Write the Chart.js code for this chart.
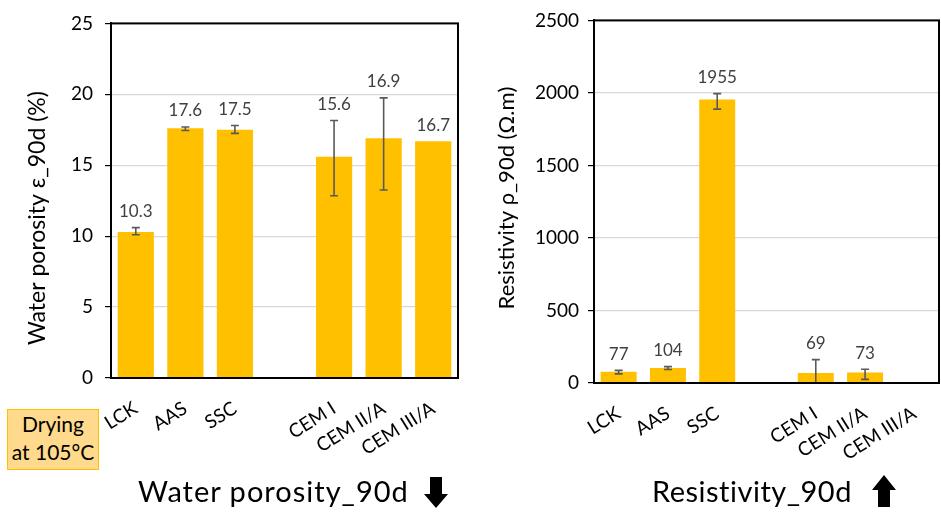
<!DOCTYPE html>
<html>
<head>
<meta charset="utf-8">
<script src="https://cdn.jsdelivr.net/npm/chart.js@4/dist/chart.umd.min.js"></script>
<style>
  body { margin: 0; background: #fff; }
  #wrap { position: relative; width: 941px; height: 512px; font-family: Lato, "Open Sans", sans-serif; }
  canvas { position: absolute; top: 0; }
  .title { position: absolute; font-size: 29px; color: #000; white-space: nowrap; line-height: 1; }
  #drying { position: absolute; left: 7px; top: 409px; width: 90px; height: 59px; background: #FFD98C;
            border: 1px solid #FFC000; font-size: 21px; line-height: 28px; text-align: center; color: #000; }
  svg { position: absolute; }
</style>
</head>
<body>
<div id="wrap">
  <canvas id="porosityChart" width="470" height="512" style="left:0"></canvas>
  <canvas id="resistChart" width="471" height="512" style="left:470px"></canvas>
  <div id="drying">Drying<br>at 105°C</div>
  <div class="title" style="left:138px; top:476px; letter-spacing:1px;">Water porosity_90d</div>
  <svg style="left:424px; top:477px" width="24" height="32"><polygon points="6,0 18,0 18,17 24,17 12,31 0,17 6,17" fill="#000"/></svg>
  <div class="title" style="left:652px; top:476px; letter-spacing:0.5px;">Resistivity_90d</div>
  <svg style="left:872px; top:475px" width="24" height="32"><polygon points="12,0 24,15 18,15 18,32 6,32 6,15 0,15" fill="#000"/></svg>
</div>
<script>
// categories (empty slot between the two groups)
var mixes = ["LCK", "AAS", "SSC", "", "CEM I", "CEM II/A", "CEM III/A"];

// water porosity at 90 days (%)
var porosity = [10.3, 17.6, 17.5, null, 15.6, 16.9, 16.7];
var porosityErrPlus = [0.3, 0.1, 0.3, null, 2.55, 2.85, null];
var porosityErrMinus = [0.2, 0.15, 0.25, null, 2.75, 3.65, null];
var porosityTicks = [0, 5, 10, 15, 20, 25];

// resistivity at 90 days (Ohm.m)
var resistivity = [77, 104, 1955, null, 69, 73, null];
var resistivityErrPlus = [10, 9, 40, null, 92, 22, null];
var resistivityErrMinus = [14, 11, 67, null, 92, 48, null];
var resistivityTicks = [0, 500, 1000, 1500, 2000, 2500];

var FONT = "Lato";

// error bars + value labels + frame + y title
const extras = {
    id: 'extras',
    afterDatasetsDraw(chart, args, opts) {
        var ctx = chart.ctx;
        var ys = chart.scales.y;
        var meta = chart.getDatasetMeta(0);
        var vals = chart.data.datasets[0].data;
        var area = chart.chartArea;
        ctx.save();
        // error bars
        ctx.beginPath();
        ctx.rect(area.left, area.top, area.right - area.left, area.bottom - area.top);
        ctx.clip();
        ctx.strokeStyle = '#595959';
        ctx.lineWidth = 1.6;
        meta.data.forEach(function (bar, i) {
            if (vals[i] == null || opts.plus[i] == null) return;
            var top = ys.getPixelForValue(vals[i] + opts.plus[i]);
            var bot = ys.getPixelForValue(vals[i] - opts.minus[i]);
            ctx.beginPath();
            ctx.moveTo(bar.x, top); ctx.lineTo(bar.x, bot);
            ctx.moveTo(bar.x - 4, top); ctx.lineTo(bar.x + 4, top);
            ctx.moveTo(bar.x - 4, bot); ctx.lineTo(bar.x + 4, bot);
            ctx.stroke();
        });
        ctx.restore();
        ctx.save();
        // labels
        ctx.fillStyle = '#404040';
        ctx.font = '17px ' + FONT;
        ctx.textAlign = 'center';
        ctx.textBaseline = 'middle';
        meta.data.forEach(function (bar, i) {
            if (vals[i] == null) return;
            var y = ys.getPixelForValue(vals[i] + (opts.plus[i] || 0)) - 16;
            ctx.fillText(opts.fmt(vals[i]), bar.x, y);
        });
        // frame
        ctx.strokeStyle = '#000';
        ctx.lineWidth = 2;
        ctx.strokeRect(area.left, area.top, area.right - area.left, area.bottom - area.top);
        // y axis title
        ctx.translate(opts.title.x, opts.title.y);
        ctx.rotate(-Math.PI / 2);
        ctx.fillStyle = '#000';
        ctx.font = opts.title.size + 'px ' + FONT;
        ctx.fillText(opts.title.text, 0, 0);
        ctx.restore();
    }
};

function makeChart(id, values, plus, minus, ticks, title, box, fmt) {
    return new Chart(document.getElementById(id), {
        type: 'bar',
        data: {
            labels: mixes,
            datasets: [{
                data: values,
                backgroundColor: '#FFC000',
                barPercentage: 0.73,
                categoryPercentage: 1
            }]
        },
        options: {
            responsive: false,
            animation: false,
            layout: { padding: { top: box.top, right: box.right, left: 0, bottom: 0 } },
            plugins: {
                legend: { display: false },
                tooltip: { enabled: false },
                extras: { plus: plus, minus: minus, fmt: fmt, title: title }
            },
            scales: {
                x: {
                    grid: { display: false },
                    border: { display: true, color: '#000', width: 2 },
                    ticks: {
                        color: '#000', font: { family: FONT, size: 19 },
                        maxRotation: 32, minRotation: 32, autoSkip: false, padding: 11
                    },
                    afterFit: function (s) { s.height = box.xh; }
                },
                y: {
                    min: ticks[0], max: ticks[ticks.length - 1],
                    afterBuildTicks: function (s) { s.ticks = ticks.map(function (v) { return { value: v }; }); },
                    grid: { color: '#d9d9d9', lineWidth: 1.2, tickColor: '#000', tickLength: 6 },
                    border: { display: true, color: '#000', width: 2 },
                    ticks: {
                        color: '#000', font: { family: FONT, size: 19 }, padding: box.tpad,
                        callback: function (v) { return String(v); }
                    },
                    afterFit: function (s) { s.width = box.yw; }
                }
            }
        },
        plugins: [extras]
    });
}

makeChart('porosityChart', porosity, porosityErrPlus, porosityErrMinus, porosityTicks,
    { text: 'Water porosity ε_90d (%)', x: 38, y: 218, size: 23 },
    { top: 10, right: 12, xh: 134, yw: 111, tpad: 12 }, function (v) { return v.toFixed(1); });
makeChart('resistChart', resistivity, resistivityErrPlus, resistivityErrMinus, resistivityTicks,
    { text: 'Resistivity ρ_90d (Ω.m)', x: 37, y: 198, size: 22 },
    { top: 15, right: 2, xh: 129, yw: 124, tpad: 9 }, function (v) { return String(v); });
</script>
</body>
</html>
